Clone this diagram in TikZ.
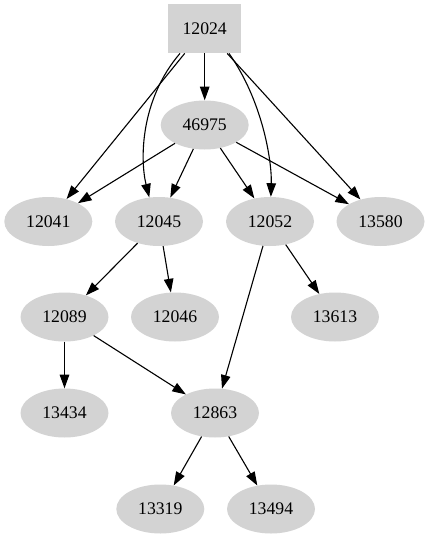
\documentclass[tikz,border=0pt]{standalone}
\usepackage{fontspec}
\setmainfont{Liberation Serif}
\usetikzlibrary{shapes.geometric,arrows.meta}
\definecolor{nodegray}{HTML}{D3D3D3}
\tikzset{
  ell/.style={ellipse,fill=nodegray,draw=none,minimum width=88pt,minimum height=49pt,inner sep=0pt,font=\fontsize{17.7}{20}\selectfont},
  boxnode/.style={rectangle,fill=nodegray,draw=none,minimum width=73pt,minimum height=49pt,inner sep=0pt,font=\fontsize{17.7}{20}\selectfont},
  edge/.style={draw=black,line width=1.1pt,-{Triangle[length=13.6pt,width=9.5pt]}}
}
\begin{document}
\begin{tikzpicture}[x=1pt,y=1pt]
\useasboundingbox (0,0) rectangle (429,-539);
\node[boxnode] (n12024) at (204.7,-28.7) {12024};
\node[ell] (n46975) at (204.7,-125) {46975};
\node[ell] (n12041) at (48.3,-221.5) {12041};
\node[ell] (n12045) at (159,-221.5) {12045};
\node[ell] (n12052) at (270,-221.5) {12052};
\node[ell] (n13580) at (380.5,-221.5) {13580};
\node[ell] (n12089) at (64.5,-317) {12089};
\node[ell] (n12046) at (175,-317) {12046};
\node[ell] (n13613) at (335,-317) {13613};
\node[ell] (n13434) at (64.5,-413) {13434};
\node[ell] (n12863) at (215,-413) {12863};
\node[ell] (n13319) at (160.3,-509) {13319};
\node[ell] (n13494) at (271,-509) {13494};

\draw[edge] (n12024) -- (n12041);
\draw[edge] ([xshift=-24.7pt]n12024.south) .. controls (140,-100) and (140,-160) .. (n12045.112);
\draw[edge] (n12024) -- (n46975);
\draw[edge] ([xshift=24.3pt]n12024.south) .. controls (262,-100) and (272,-160) .. (n12052.88);
\draw[edge] (n12024) -- (n13580);
\draw[edge] (n46975) -- (n12041);
\draw[edge] (n46975) -- (n12045);
\draw[edge] (n46975) -- (n12052);
\draw[edge] (n46975) -- (n13580);
\draw[edge] (n12045) -- (n12089);
\draw[edge] (n12045) -- (n12046);
\draw[edge] (n12052) -- (n12863);
\draw[edge] (n12052) -- (n13613);
\draw[edge] (n12089) -- (n13434);
\draw[edge] (n12089) -- (n12863);
\draw[edge] (n12863) -- (n13319);
\draw[edge] (n12863) -- (n13494);
\end{tikzpicture}
\end{document}
